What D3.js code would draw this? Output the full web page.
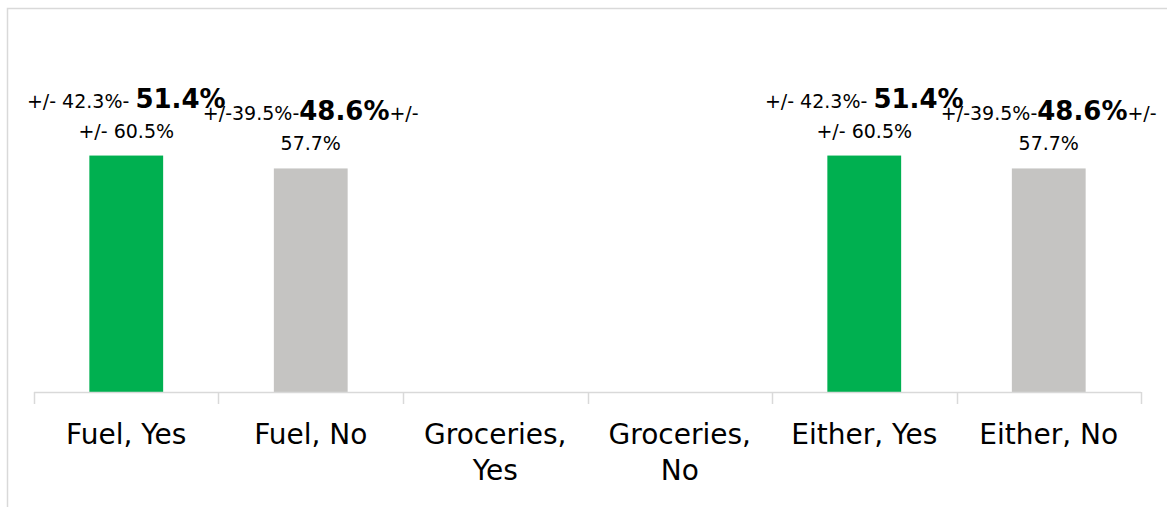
<!DOCTYPE html>
<html>
<head>
<meta charset="utf-8">
<script src="https://cdn.jsdelivr.net/npm/d3@7"></script>
<style>
  body { margin: 0; background: #fff; }
  text { font-family: 'DejaVu Sans', sans-serif; fill: #000; }
</style>
</head>
<body>
<div id="chart"></div>
<script>
// data
let categories = ['Fuel, Yes', 'Fuel, No', 'Groceries, Yes', 'Groceries, No', 'Either, Yes', 'Either, No']
let values = [51.4, 48.6, null, null, 51.4, 48.6]
let lowerCI = [42.3, 39.5, null, null, 42.3, 39.5]
let upperCI = [60.5, 57.7, null, null, 60.5, 57.7]
let answers = ['Yes', 'No', 'Yes', 'No', 'Yes', 'No']

let width = 1167
let height = 507
let margin = { top: 24, left: 34, right: 26, bottom: 115 }

let svg = d3
  .select('#chart')
  .append('svg')
  .attr('width', width)
  .attr('height', height)

// outer frame (only top and left edges show in the picture)
svg.append('path')
  .attr('d', `M7.5,${height} V8.5 H${width}`)
  .attr('fill', 'none')
  .attr('stroke', '#d9d9d9')
  .attr('stroke-width', 1.5)

let x = d3.scaleBand()
  .domain(categories)
  .range([margin.left, width - margin.right])
  .paddingInner(0.6)
  .paddingOuter(0.3)

let y = d3.scaleLinear()
  .domain([0, 80])
  .range([height - margin.bottom, margin.top])

let colorScale = d3.scaleOrdinal().domain(['Yes', 'No']).range(['#00b050', '#c5c4c2'])

let data = categories.map((c, i) => ({
  cat: c, value: values[i], lo: lowerCI[i], hi: upperCI[i], ans: answers[i]
}))

// bars
svg.append('g')
  .selectAll('rect')
  .data(data.filter(d => d.value != null))
  .enter()
  .append('rect')
  .attr('x', d => x(d.cat))
  .attr('width', x.bandwidth())
  .attr('y', d => y(d.value))
  .attr('height', d => y(0) - y(d.value))
  .attr('fill', d => colorScale(d.ans))

// category axis: baseline + tick lines at band edges (centre +/- step/2)
let step = x.step()
let edges = d3.range(categories.length + 1).map(i => x(categories[0]) + x.bandwidth() / 2 - step / 2 + i * step)

let axisG = svg.append('g')
axisG.append('line')
  .attr('x1', edges[0]).attr('x2', edges[edges.length - 1])
  .attr('y1', y(0) + 0.5).attr('y2', y(0) + 0.5)
  .attr('stroke', '#d9d9d9').attr('stroke-width', 1.5)
axisG.selectAll('.tick')
  .data(edges)
  .enter()
  .append('line')
  .attr('x1', d => Math.round(d) + 0.5).attr('x2', d => Math.round(d) + 0.5)
  .attr('y1', y(0)).attr('y2', y(0) + 12)
  .attr('stroke', '#d9d9d9').attr('stroke-width', 1.5)

// category labels, wrapped at the comma when too wide
axisG.selectAll('.cat-label')
  .data(categories)
  .enter()
  .append('text')
  .attr('class', 'cat-label')
  .attr('text-anchor', 'middle')
  .attr('font-size', 28)
  .each(function(d) {
    let t = d3.select(this)
    let cx = x(d) + x.bandwidth() / 2
    t.append('tspan').attr('x', cx).attr('y', 444).text(d)
    if (this.getComputedTextLength() > step - 4) {
      t.selectAll('tspan').remove()
      let parts = d.split(' ')
      t.append('tspan').attr('x', cx).attr('y', 444).text(parts[0])
      t.append('tspan').attr('x', cx).attr('y', 480).text(parts.slice(1).join(' '))
    }
  })

// data labels: "+/- lo%- VALUE% +/- hi%"
svg.append('g')
  .selectAll('.data-label')
  .data(data.filter(d => d.value != null))
  .enter()
  .append('text')
  .attr('class', 'data-label')
  .attr('text-anchor', 'middle')
  .each(function(d) {
    let t = d3.select(this)
    let cx = x(d.cat) + x.bandwidth() / 2
    let top = y(d.value) - 18
    let a = t.append('tspan').attr('x', cx).attr('y', top - 30)
    if (d.ans === 'Yes') {
      a.append('tspan').attr('font-size', 19).text(`+/- ${d.lo}%- `)
      a.append('tspan').attr('font-size', 26).attr('font-weight', 'bold').text(`${d.value}%`)
      t.append('tspan').attr('x', cx).attr('y', top).attr('font-size', 19).text(`+/- ${d.hi}%`)
    } else {
      a.append('tspan').attr('font-size', 19).text(`+/-${d.lo}%-`)
      a.append('tspan').attr('font-size', 26).attr('font-weight', 'bold').text(`${d.value}%`)
      a.append('tspan').attr('font-size', 19).text('+/-')
      t.append('tspan').attr('x', cx).attr('y', top).attr('font-size', 19).text(`${d.hi}%`)
    }
  })
</script>
</body>
</html>
